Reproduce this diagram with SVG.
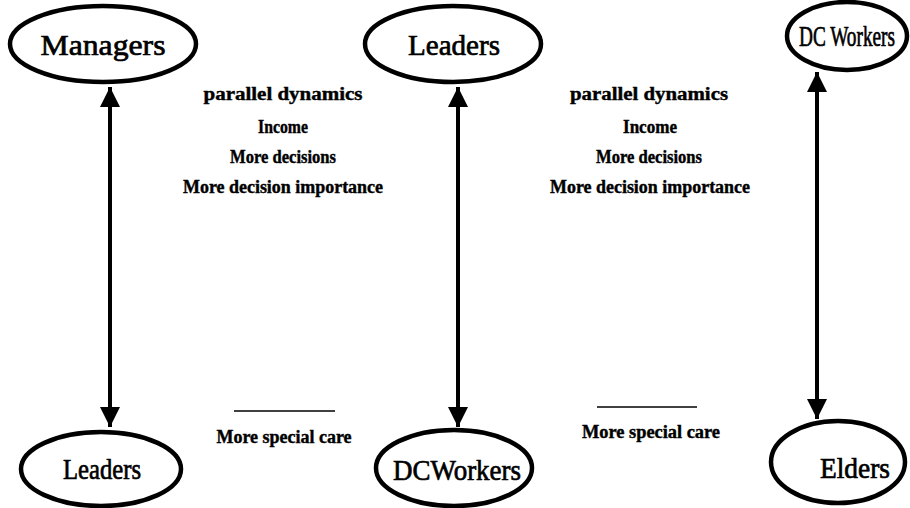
<svg xmlns="http://www.w3.org/2000/svg" width="910" height="508" viewBox="0 0 910 508">
  <defs>
    <marker id="head" viewBox="0 0 10 10" refX="10" refY="5" markerWidth="6" markerHeight="5" markerUnits="strokeWidth" orient="auto-start-reverse">
      <path d="M0,0 L10,5 L0,10 Z" fill="#000"/>
    </marker>
  </defs>
  <style>
    .node ellipse { fill: #fff; stroke: #000; stroke-width: 4.5; }
    .node text { font-family: "Liberation Serif", "DejaVu Serif", "Times New Roman", serif; font-size: 30px; text-anchor: middle; fill: #000; stroke: #000; stroke-width: 0.7; }
    .lbl { font-family: "Liberation Serif", "DejaVu Serif", "Times New Roman", serif; font-size: 18px; font-weight: bold; text-anchor: middle; fill: #000; stroke: #000; stroke-width: 0.4; }
    .conn line { stroke: #000; stroke-width: 4; }
    .rule { stroke: #000; stroke-width: 1.5; }
  </style>
  <rect width="910" height="508" fill="#fff"/>

  <!-- connectors -->
  <g id="connectors" class="conn">
    <line x1="110" y1="87" x2="110" y2="427" marker-start="url(#head)" marker-end="url(#head)"/>
    <line x1="458" y1="87" x2="458" y2="427" marker-start="url(#head)" marker-end="url(#head)"/>
    <line x1="817" y1="72" x2="817" y2="419" marker-start="url(#head)" marker-end="url(#head)"/>
  </g>

  <!-- top row -->
  <g id="managers" class="node">
    <ellipse cx="103" cy="44" rx="93" ry="38"/>
    <text x="103" y="55" textLength="125" lengthAdjust="spacingAndGlyphs">Managers</text>
  </g>
  <g id="leaders-top" class="node">
    <ellipse cx="453" cy="44" rx="88" ry="38"/>
    <text x="454" y="55" textLength="92" lengthAdjust="spacingAndGlyphs">Leaders</text>
  </g>
  <g id="dcworkers-top" class="node">
    <ellipse cx="847" cy="36" rx="60" ry="34"/>
    <text x="847" y="46" font-size="26" textLength="96" lengthAdjust="spacingAndGlyphs">DC Workers</text>
  </g>

  <!-- bottom row -->
  <g id="leaders-bottom" class="node">
    <ellipse cx="101" cy="469" rx="80" ry="37"/>
    <text x="102" y="479" textLength="78" lengthAdjust="spacingAndGlyphs">Leaders</text>
  </g>
  <g id="dcworkers-bottom" class="node">
    <ellipse cx="454" cy="468" rx="78" ry="38"/>
    <text x="457" y="480" textLength="128" lengthAdjust="spacingAndGlyphs">DCWorkers</text>
  </g>
  <g id="elders" class="node">
    <ellipse cx="838" cy="462" rx="67" ry="41"/>
    <text x="855" y="478" textLength="70" lengthAdjust="spacingAndGlyphs">Elders</text>
  </g>

  <!-- left label block -->
  <g id="labels-left">
    <text class="lbl" x="283" y="100" textLength="159" lengthAdjust="spacingAndGlyphs">parallel dynamics</text>
    <text class="lbl" x="283" y="133" textLength="50" lengthAdjust="spacingAndGlyphs">Income</text>
    <text class="lbl" x="283" y="163" textLength="106" lengthAdjust="spacingAndGlyphs">More decisions</text>
    <text class="lbl" x="283" y="193" textLength="200" lengthAdjust="spacingAndGlyphs">More decision importance</text>
    <line class="rule" x1="234" y1="411" x2="335" y2="411"/>
    <text class="lbl" x="284" y="443" textLength="135" lengthAdjust="spacingAndGlyphs">More special care</text>
  </g>

  <!-- right label block -->
  <g id="labels-right">
    <text class="lbl" x="649" y="100" textLength="158" lengthAdjust="spacingAndGlyphs">parallel dynamics</text>
    <text class="lbl" x="650" y="133" textLength="54" lengthAdjust="spacingAndGlyphs">Income</text>
    <text class="lbl" x="649" y="163" textLength="106" lengthAdjust="spacingAndGlyphs">More decisions</text>
    <text class="lbl" x="650" y="193" textLength="200" lengthAdjust="spacingAndGlyphs">More decision importance</text>
    <line class="rule" x1="597" y1="407" x2="697" y2="407"/>
    <text class="lbl" x="651" y="438" textLength="138" lengthAdjust="spacingAndGlyphs">More special care</text>
  </g>
</svg>
